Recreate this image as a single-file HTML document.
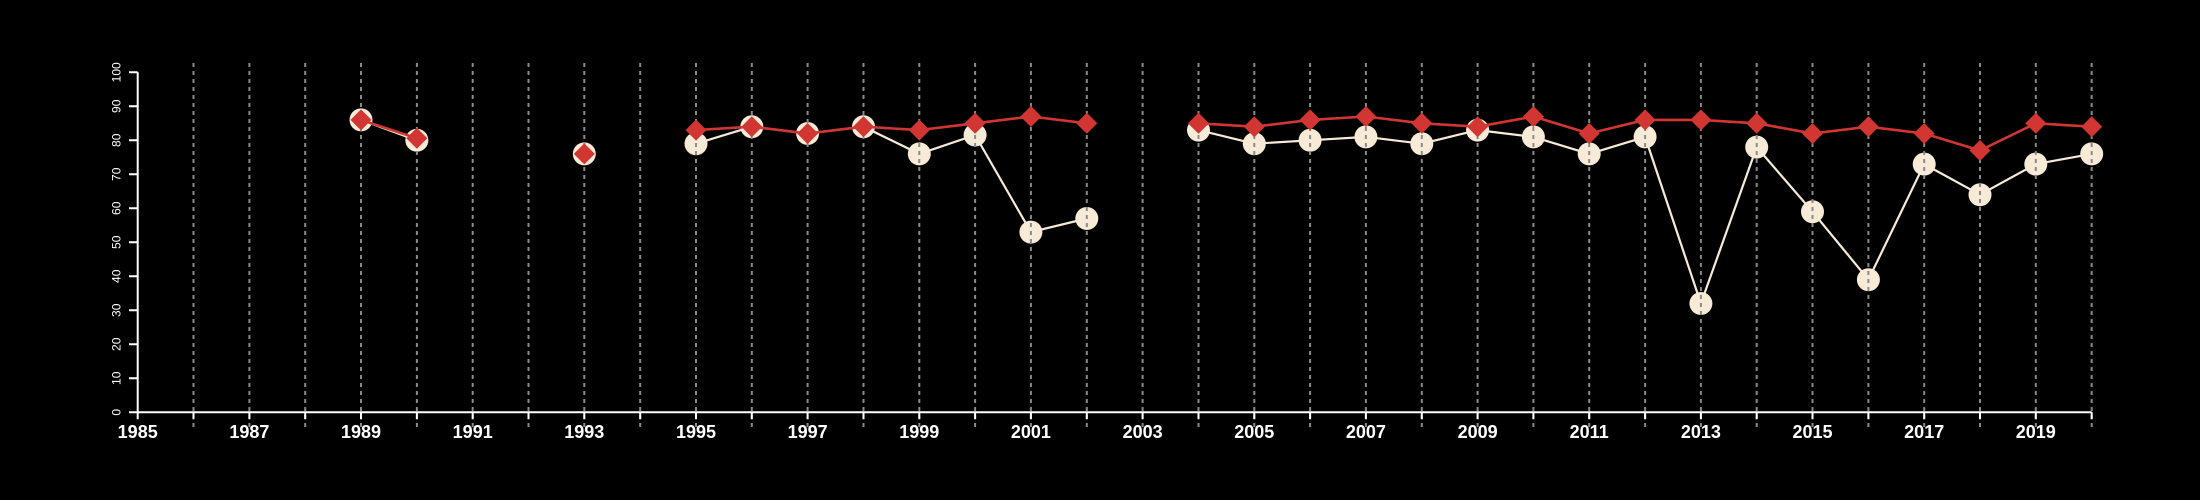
<!DOCTYPE html>
<html><head><meta charset="utf-8"><style>
html,body{margin:0;padding:0;background:#000;}
svg{display:block;}
</style></head><body>
<svg width="2200" height="500" viewBox="0 0 2200 500" xmlns="http://www.w3.org/2000/svg">
<rect width="2200" height="500" fill="#000"/>
<!-- cream series lines -->
<g fill="none" stroke="#f7ead7" stroke-width="2.2" stroke-linejoin="round">
<polyline points="361.0,119.9 416.85,140.3"/>
<polyline points="696.0,143.7 751.8,126.7 807.6,133.5 863.5,126.7 919.3,153.9 975.1,135 1030.9,232.1 1086.8,218.5"/>
<polyline points="1198.5,130.1 1254.3,143.7 1310.1,140.3 1365.9,136.9 1421.8,143.7 1477.6,130.1 1533.4,136.9 1589.2,153.9 1645.1,136.9 1700.9,303.5 1756.7,147.1 1812.5,211.7 1868.4,279.7 1924.2,164.1 1980.0,194.7 2035.8,164.1 2091.7,153.9"/>
</g>
<g fill="#f7ead7">
<circle cx="361.0" cy="119.9" r="11.5"/><circle cx="416.85" cy="140.3" r="11.5"/>
<circle cx="584.3" cy="153.9" r="11.5"/>
<circle cx="696.0" cy="143.7" r="11.5"/><circle cx="751.8" cy="126.7" r="11.5"/><circle cx="807.6" cy="133.5" r="11.5"/><circle cx="863.5" cy="126.7" r="11.5"/><circle cx="919.3" cy="153.9" r="11.5"/><circle cx="975.1" cy="135" r="11.5"/><circle cx="1030.9" cy="232.1" r="11.5"/><circle cx="1086.8" cy="218.5" r="11.5"/>
<circle cx="1198.5" cy="130.1" r="11.5"/><circle cx="1254.3" cy="143.7" r="11.5"/><circle cx="1310.1" cy="140.3" r="11.5"/><circle cx="1365.9" cy="136.9" r="11.5"/><circle cx="1421.8" cy="143.7" r="11.5"/><circle cx="1477.6" cy="130.1" r="11.5"/><circle cx="1533.4" cy="136.9" r="11.5"/><circle cx="1589.2" cy="153.9" r="11.5"/><circle cx="1645.1" cy="136.9" r="11.5"/><circle cx="1700.9" cy="303.5" r="11.5"/><circle cx="1756.7" cy="147.1" r="11.5"/><circle cx="1812.5" cy="211.7" r="11.5"/><circle cx="1868.4" cy="279.7" r="11.5"/><circle cx="1924.2" cy="164.1" r="11.5"/><circle cx="1980.0" cy="194.7" r="11.5"/><circle cx="2035.8" cy="164.1" r="11.5"/><circle cx="2091.7" cy="153.9" r="11.5"/>
</g>
<!-- grid -->
<g stroke="#8a8a8a" stroke-width="2" stroke-dasharray="4,4">
<line x1="193.5" y1="63" x2="193.5" y2="427"/>
<line x1="249.4" y1="63" x2="249.4" y2="427"/>
<line x1="305.2" y1="63" x2="305.2" y2="427"/>
<line x1="361.0" y1="63" x2="361.0" y2="427"/>
<line x1="416.9" y1="63" x2="416.9" y2="427"/>
<line x1="472.7" y1="63" x2="472.7" y2="427"/>
<line x1="528.5" y1="63" x2="528.5" y2="427"/>
<line x1="584.3" y1="63" x2="584.3" y2="427"/>
<line x1="640.2" y1="63" x2="640.2" y2="427"/>
<line x1="696.0" y1="63" x2="696.0" y2="427"/>
<line x1="751.8" y1="63" x2="751.8" y2="427"/>
<line x1="807.6" y1="63" x2="807.6" y2="427"/>
<line x1="863.5" y1="63" x2="863.5" y2="427"/>
<line x1="919.3" y1="63" x2="919.3" y2="427"/>
<line x1="975.1" y1="63" x2="975.1" y2="427"/>
<line x1="1030.9" y1="63" x2="1030.9" y2="427"/>
<line x1="1086.8" y1="63" x2="1086.8" y2="427"/>
<line x1="1142.6" y1="63" x2="1142.6" y2="427"/>
<line x1="1198.5" y1="63" x2="1198.5" y2="427"/>
<line x1="1254.3" y1="63" x2="1254.3" y2="427"/>
<line x1="1310.1" y1="63" x2="1310.1" y2="427"/>
<line x1="1365.9" y1="63" x2="1365.9" y2="427"/>
<line x1="1421.8" y1="63" x2="1421.8" y2="427"/>
<line x1="1477.6" y1="63" x2="1477.6" y2="427"/>
<line x1="1533.4" y1="63" x2="1533.4" y2="427"/>
<line x1="1589.2" y1="63" x2="1589.2" y2="427"/>
<line x1="1645.1" y1="63" x2="1645.1" y2="427"/>
<line x1="1700.9" y1="63" x2="1700.9" y2="427"/>
<line x1="1756.7" y1="63" x2="1756.7" y2="427"/>
<line x1="1812.5" y1="63" x2="1812.5" y2="427"/>
<line x1="1868.4" y1="63" x2="1868.4" y2="427"/>
<line x1="1924.2" y1="63" x2="1924.2" y2="427"/>
<line x1="1980.0" y1="63" x2="1980.0" y2="427"/>
<line x1="2035.8" y1="63" x2="2035.8" y2="427"/>
<line x1="2091.7" y1="63" x2="2091.7" y2="427"/>
</g>
<!-- red series -->
<g fill="none" stroke="#d13632" stroke-width="2.6" stroke-linejoin="round">
<polyline points="361.0,119.9 416.85,138.3"/>
<polyline points="696.0,130.1 751.8,126.7 807.6,133.5 863.5,126.7 919.3,130.1 975.1,123.3 1030.9,116.5 1086.8,123.3"/>
<polyline points="1198.5,123.3 1254.3,126.7 1310.1,119.9 1365.9,116.5 1421.8,123.3 1477.6,126.7 1533.4,116.5 1589.2,133.5 1645.1,119.9 1700.9,119.9 1756.7,123.3 1812.5,133.5 1868.4,126.7 1924.2,133.5 1980.0,150.5 2035.8,123.3 2091.7,126.7"/>
</g>
<g fill="#d13632">
<path d="M361.0,109.4 l10.5,10.5 l-10.5,10.5 l-10.5,-10.5z"/>
<path d="M416.85,127.8 l10.5,10.5 l-10.5,10.5 l-10.5,-10.5z"/>
<path d="M584.3,143.4 l10.5,10.5 l-10.5,10.5 l-10.5,-10.5z"/>
<path d="M696.0,119.6 l10.5,10.5 l-10.5,10.5 l-10.5,-10.5z"/>
<path d="M751.8,116.2 l10.5,10.5 l-10.5,10.5 l-10.5,-10.5z"/>
<path d="M807.6,123.0 l10.5,10.5 l-10.5,10.5 l-10.5,-10.5z"/>
<path d="M863.5,116.2 l10.5,10.5 l-10.5,10.5 l-10.5,-10.5z"/>
<path d="M919.3,119.6 l10.5,10.5 l-10.5,10.5 l-10.5,-10.5z"/>
<path d="M975.1,112.8 l10.5,10.5 l-10.5,10.5 l-10.5,-10.5z"/>
<path d="M1030.9,106.0 l10.5,10.5 l-10.5,10.5 l-10.5,-10.5z"/>
<path d="M1086.8,112.8 l10.5,10.5 l-10.5,10.5 l-10.5,-10.5z"/>
<path d="M1198.5,112.8 l10.5,10.5 l-10.5,10.5 l-10.5,-10.5z"/>
<path d="M1254.3,116.2 l10.5,10.5 l-10.5,10.5 l-10.5,-10.5z"/>
<path d="M1310.1,109.4 l10.5,10.5 l-10.5,10.5 l-10.5,-10.5z"/>
<path d="M1365.9,106.0 l10.5,10.5 l-10.5,10.5 l-10.5,-10.5z"/>
<path d="M1421.8,112.8 l10.5,10.5 l-10.5,10.5 l-10.5,-10.5z"/>
<path d="M1477.6,116.2 l10.5,10.5 l-10.5,10.5 l-10.5,-10.5z"/>
<path d="M1533.4,106.0 l10.5,10.5 l-10.5,10.5 l-10.5,-10.5z"/>
<path d="M1589.2,123.0 l10.5,10.5 l-10.5,10.5 l-10.5,-10.5z"/>
<path d="M1645.1,109.4 l10.5,10.5 l-10.5,10.5 l-10.5,-10.5z"/>
<path d="M1700.9,109.4 l10.5,10.5 l-10.5,10.5 l-10.5,-10.5z"/>
<path d="M1756.7,112.8 l10.5,10.5 l-10.5,10.5 l-10.5,-10.5z"/>
<path d="M1812.5,123.0 l10.5,10.5 l-10.5,10.5 l-10.5,-10.5z"/>
<path d="M1868.4,116.2 l10.5,10.5 l-10.5,10.5 l-10.5,-10.5z"/>
<path d="M1924.2,123.0 l10.5,10.5 l-10.5,10.5 l-10.5,-10.5z"/>
<path d="M1980.0,140.0 l10.5,10.5 l-10.5,10.5 l-10.5,-10.5z"/>
<path d="M2035.8,112.8 l10.5,10.5 l-10.5,10.5 l-10.5,-10.5z"/>
<path d="M2091.7,116.2 l10.5,10.5 l-10.5,10.5 l-10.5,-10.5z"/>
</g>
<!-- axes -->
<g stroke="#fff" stroke-width="2" fill="none">
<line x1="137.7" y1="72.3" x2="137.7" y2="412.3"/>
<line x1="137.7" y1="412.3" x2="2091.7" y2="412.3"/>
<path d="M129,412.3h8.7M129,378.3h8.7M129,344.3h8.7M129,310.3h8.7M129,276.3h8.7M129,242.3h8.7M129,208.3h8.7M129,174.3h8.7M129,140.3h8.7M129,106.3h8.7M129,72.3h8.7"/>
<path d="M137.7,412.3v7M193.5,412.3v7M249.4,412.3v7M305.2,412.3v7M361.0,412.3v7M416.9,412.3v7M472.7,412.3v7M528.5,412.3v7M584.3,412.3v7M640.2,412.3v7M696.0,412.3v7M751.8,412.3v7M807.6,412.3v7M863.5,412.3v7M919.3,412.3v7M975.1,412.3v7M1030.9,412.3v7M1086.8,412.3v7M1142.6,412.3v7M1198.5,412.3v7M1254.3,412.3v7M1310.1,412.3v7M1365.9,412.3v7M1421.8,412.3v7M1477.6,412.3v7M1533.4,412.3v7M1589.2,412.3v7M1645.1,412.3v7M1700.9,412.3v7M1756.7,412.3v7M1812.5,412.3v7M1868.4,412.3v7M1924.2,412.3v7M1980.0,412.3v7M2035.8,412.3v7M2091.7,412.3v7"/>
</g>
<g fill="#fff" font-family="Liberation Sans, sans-serif" font-size="12" text-anchor="middle">
<text transform="translate(120.5,412.3) rotate(-90)">0</text>
<text transform="translate(120.5,378.3) rotate(-90)">10</text>
<text transform="translate(120.5,344.3) rotate(-90)">20</text>
<text transform="translate(120.5,310.3) rotate(-90)">30</text>
<text transform="translate(120.5,276.3) rotate(-90)">40</text>
<text transform="translate(120.5,242.3) rotate(-90)">50</text>
<text transform="translate(120.5,208.3) rotate(-90)">60</text>
<text transform="translate(120.5,174.3) rotate(-90)">70</text>
<text transform="translate(120.5,140.3) rotate(-90)">80</text>
<text transform="translate(120.5,106.3) rotate(-90)">90</text>
<text transform="translate(120.5,72.3) rotate(-90)">100</text>
</g>
<g fill="#fff" font-family="Liberation Sans, sans-serif" font-size="18" font-weight="bold" text-anchor="middle">
<text x="137.7" y="438">1985</text>
<text x="249.4" y="438">1987</text>
<text x="361.0" y="438">1989</text>
<text x="472.7" y="438">1991</text>
<text x="584.3" y="438">1993</text>
<text x="696.0" y="438">1995</text>
<text x="807.6" y="438">1997</text>
<text x="919.3" y="438">1999</text>
<text x="1030.9" y="438">2001</text>
<text x="1142.6" y="438">2003</text>
<text x="1254.3" y="438">2005</text>
<text x="1365.9" y="438">2007</text>
<text x="1477.6" y="438">2009</text>
<text x="1589.2" y="438">2011</text>
<text x="1700.9" y="438">2013</text>
<text x="1812.5" y="438">2015</text>
<text x="1924.2" y="438">2017</text>
<text x="2035.8" y="438">2019</text>
</g>
</svg>
</body></html>
